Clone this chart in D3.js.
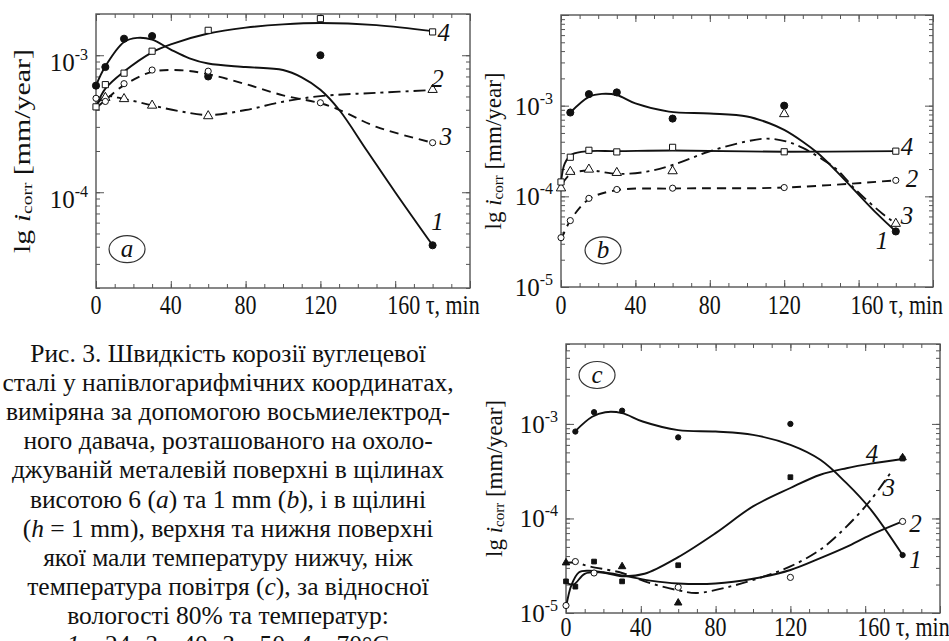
<!DOCTYPE html>
<meta charset="utf-8">
<script src="https://d3js.org/d3.v7.min.js"></script>
<style>
  body { margin: 0; background: #fff; }
</style>
<div id="my_dataviz"></div>
<script>

var SERIF = "'Liberation Serif', 'Times New Roman', serif";

// sampling times of the measured points, min
var times = [0, 5, 15, 30, 60, 120, 180];
var xLabelTicks = [0, 40, 80, 120, 160];

// ---- panel a : measured points
var aPts1 = [6.0e-4, 8.2e-4, 1.32e-3, 1.38e-3, 7.0e-4, 1.0e-3, 4.1e-5];
var aPts2 = [null, 4.9e-4, 4.8e-4, 4.3e-4, 3.6e-4, null, 5.6e-4];
var aPts3 = [4.85e-4, 4.6e-4, 6.2e-4, 7.8e-4, 7.65e-4, 4.5e-4, 2.3e-4];
var aPts4 = [4.2e-4, 6.1e-4, 7.4e-4, 1.07e-3, 1.52e-3, 1.85e-3, 1.48e-3];
// panel a : fitted curves
var aCurveT1 = [0, 5, 15, 22, 30, 40, 50, 60, 80, 100, 110, 120, 130, 145, 160, 180];
var aCurveV1 = [6.0e-4, 8.3e-4, 1.25e-3, 1.34e-3, 1.3e-3, 1.1e-3, 9.5e-4, 8.7e-4, 8.2e-4, 7.8e-4, 6.9e-4, 5.6e-4, 4.0e-4, 2.0e-4, 1.0e-4, 4.1e-5];
var aCurveT2 = [0, 5, 15, 30, 45, 60, 80, 100, 120, 150, 180];
var aCurveV2 = [4.3e-4, 5.0e-4, 4.8e-4, 4.3e-4, 3.9e-4, 3.66e-4, 3.98e-4, 4.58e-4, 5.03e-4, 5.32e-4, 5.57e-4];
var aCurveT3 = [0, 5, 15, 30, 45, 60, 80, 100, 120, 130, 150, 180];
var aCurveV3 = [4.1e-4, 4.7e-4, 6.05e-4, 7.56e-4, 7.78e-4, 7.27e-4, 6.16e-4, 5.1e-4, 4.46e-4, 4.0e-4, 3.0e-4, 2.3e-4];
var aCurveT4 = [0, 5, 15, 30, 40, 60, 80, 100, 120, 150, 180];
var aCurveV4 = [4.2e-4, 5.7e-4, 7.6e-4, 1.05e-3, 1.2e-3, 1.44e-3, 1.59e-3, 1.68e-3, 1.72e-3, 1.66e-3, 1.5e-3];

// ---- panel b
var bPts1 = [null, 8.4e-4, 1.34e-3, 1.4e-3, 7.2e-4, 1.0e-3, 4.1e-5];
var bPts2 = [3.5e-5, 5.4e-5, 9.5e-5, 1.19e-4, 1.23e-4, 1.25e-4, 1.5e-4];
var bPts3 = [1.23e-4, 1.87e-4, 1.98e-4, 1.82e-4, 1.9e-4, 8.1e-4, 5.0e-5];
var bPts4 = [1.44e-4, 2.7e-4, 3.22e-4, 3.09e-4, 3.47e-4, 3.1e-4, 3.15e-4];
var bCurveT1 = [5, 15, 22, 30, 40, 58, 80, 100, 112, 120, 130, 138, 148, 159, 170, 180];
var bCurveV1 = [8.4e-4, 1.25e-3, 1.35e-3, 1.31e-3, 1.06e-3, 8.6e-4, 8.2e-4, 7.6e-4, 6.4e-4, 5.4e-4, 4.0e-4, 3.0e-4, 1.9e-4, 1.1e-4, 6.4e-5, 4.1e-5];
var bCurveT2 = [0, 5, 15, 30, 60, 120, 180];
var bCurveV2 = [3.3e-5, 5.4e-5, 9.3e-5, 1.17e-4, 1.22e-4, 1.25e-4, 1.5e-4];
var bCurveT3 = [0, 5, 15, 30, 46, 61, 80, 100, 111, 121, 130, 140, 148, 159, 173, 180];
var bCurveV3 = [1.3e-4, 1.75e-4, 1.93e-4, 1.77e-4, 1.87e-4, 2.25e-4, 3.14e-4, 4.04e-4, 4.33e-4, 4.04e-4, 3.42e-4, 2.6e-4, 2.0e-4, 1.15e-4, 6.4e-5, 5.0e-5];
var bCurveT4 = [0, 2, 6, 15, 30, 60, 120, 180];
var bCurveV4 = [1.4e-4, 2.3e-4, 2.9e-4, 3.15e-4, 3.15e-4, 3.2e-4, 3.1e-4, 3.15e-4];

// ---- panel c
var cPts1 = [null, 8.3e-4, 1.33e-3, 1.38e-3, 7.2e-4, 1.0e-3, 4.1e-5];
var cPts2 = [1.2e-5, 3.5e-5, 2.65e-5, null, 1.87e-5, 2.38e-5, 9.3e-5];
var cPts3 = [3.4e-5, null, null, 3.1e-5, 1.28e-5, null, 4.4e-4];
var cPts4 = [2.16e-5, 1.9e-5, 3.5e-5, 2.16e-5, 3.2e-5, 2.73e-4, 4.3e-4];
var cCurveT1 = [5, 14, 21, 30, 41, 60, 80, 100, 120, 136, 150, 163, 180];
var cCurveV1 = [8.4e-4, 1.19e-3, 1.33e-3, 1.3e-3, 1.06e-3, 8.6e-4, 8.3e-4, 7.66e-4, 6.0e-4, 4.17e-4, 2.36e-4, 1.24e-4, 4.1e-5];
var cCurveT2 = [0, 3, 7, 12, 20, 30, 45, 60, 80, 100, 120, 136, 150, 163, 180];
var cCurveV2 = [1.15e-5, 2.0e-5, 2.7e-5, 2.8e-5, 2.7e-5, 2.5e-5, 2.2e-5, 2.05e-5, 2.05e-5, 2.3e-5, 2.85e-5, 3.8e-5, 5.0e-5, 6.7e-5, 9.3e-5];
var cCurveT3 = [0, 5, 13, 30, 45, 60, 70, 88, 106, 120, 136, 150, 163, 174];
var cCurveV3 = [3.4e-5, 3.4e-5, 3.1e-5, 2.65e-5, 2.07e-5, 1.74e-5, 1.63e-5, 1.91e-5, 2.44e-5, 3.11e-5, 4.68e-5, 8.2e-5, 1.57e-4, 3.13e-4];
var cCurveT4 = [0, 4, 10, 18, 30, 42, 60, 80, 100, 120, 136, 150, 163, 180];
var cCurveV4 = [2.1e-5, 2.0e-5, 2.6e-5, 2.7e-5, 2.45e-5, 2.6e-5, 3.9e-5, 7.0e-5, 1.34e-4, 2.1e-4, 2.9e-4, 3.4e-4, 3.8e-4, 4.25e-4];

// curve numbers and where they sit (t, value)
var aNumbers = [["1", 182.6, 6.1e-5], ["2", 182.6, 6.8e-4], ["3", 187, 2.54e-4], ["4", 186, 1.47e-3]];
var bNumbers = [["1", 172.6, 3.27e-5], ["2", 188.7, 1.59e-4], ["3", 186, 6.1e-5], ["4", 186, 3.57e-4]];
var cNumbers = [["1", 186.9, 3.66e-5], ["2", 186.9, 8.9e-5], ["3", 172.6, 2.1e-4], ["4", 163.7, 4.9e-4]];

var captionLines = [
  [["Рис. 3. Швидкість корозії вуглецевої"]],
  [["сталі у напівлогарифмічних координатах,"]],
  [["виміряна за допомогою восьмиелектрод-"]],
  [["ного давача, розташованого на охоло-"]],
  [["джуваній металевій поверхні в щілинах"]],
  [["висотою 6 ("], ["a", 1], [") та 1 mm ("], ["b", 1], ["), і в щілині"]],
  [["("], ["h", 1], [" = 1 mm), верхня та нижня поверхні"]],
  [["якої мали температуру нижчу, ніж"]],
  [["температура повітря ("], ["c", 1], ["), за відносної"]],
  [["вологості 80% та температур:"]],
  [["1", 1], [" – 24; "], ["2", 1], [" – 40; "], ["3", 1], [" – 50; "], ["4", 1], [" – 70°C"]]
];

function zip(ts, vs) { return ts.map(function (t, i) { return [t, vs[i]]; }); }

var DISC = {type: d3.symbolCircle, size: 40, fill: "#111"};
var SDISC = {type: d3.symbolCircle, size: 22, fill: "#111"};
var CIRC = {type: d3.symbolCircle, size: 30, fill: "#fff"};
var SQ = {type: d3.symbolSquare, size: 38, fill: "#fff"};
var SSQ = {type: d3.symbolSquare, size: 22, fill: "#111"};
var TRI = {type: d3.symbolTriangle, size: 38, fill: "#fff"};
var STRI = {type: d3.symbolTriangle, size: 24, fill: "#111"};
var SOLID = null, DASH = "9,6", DASHDOT = "12,5,3,5";

var panels = [
  {badge: "a", left: 96, right: 470, top: 14, bottom: 288, yDomain: [2e-5, 2e-3], yLabels: [1e-3, 1e-4],
   yLabelDy: 16, titleX: 22, titleScale: 1.3, badgeAt: [16.6, 3.84e-5], numbers: aNumbers, xLabelY: 314,
   series: [
     {pts: aPts1, curve: zip(aCurveT1, aCurveV1), mark: DISC, dash: SOLID},
     {pts: aPts2, curve: zip(aCurveT2, aCurveV2), mark: TRI, dash: DASHDOT},
     {pts: aPts3, curve: zip(aCurveT3, aCurveV3), mark: CIRC, dash: DASH},
     {pts: aPts4, curve: zip(aCurveT4, aCurveV4), mark: SQ, dash: SOLID}]},
  {badge: "b", left: 561, right: 933, top: 15, bottom: 287, yDomain: [1e-5, 1e-2], yLabels: [1e-3, 1e-4, 1e-5],
   yLabelDy: 9, titleX: 493, titleScale: 1, badgeAt: [22.6, 2.54e-5], numbers: bNumbers, xLabelY: 314,
   series: [
     {pts: bPts1, curve: zip(bCurveT1, bCurveV1), mark: DISC, dash: SOLID},
     {pts: bPts2, curve: zip(bCurveT2, bCurveV2), mark: CIRC, dash: DASH},
     {pts: bPts3, curve: zip(bCurveT3, bCurveV3), mark: TRI, dash: DASHDOT},
     {pts: bPts4, curve: zip(bCurveT4, bCurveV4), mark: SQ, dash: SOLID}]},
  {badge: "c", left: 566, right: 940, top: 344, bottom: 613, yDomain: [1e-5, 7e-3], yLabels: [1e-3, 1e-4, 1e-5],
   yLabelDy: 9, titleX: 494, titleScale: 1, badgeAt: [16.6, 3.29e-3], numbers: cNumbers, xLabelY: 636,
   series: [
     {pts: cPts1, curve: zip(cCurveT1, cCurveV1), mark: SDISC, dash: SOLID},
     {pts: cPts2, curve: zip(cCurveT2, cCurveV2), mark: CIRC, dash: SOLID},
     {pts: cPts3, curve: zip(cCurveT3, cCurveV3), mark: STRI, dash: DASHDOT},
     {pts: cPts4, curve: zip(cCurveT4, cCurveV4), mark: SSQ, dash: SOLID}]}
];

var svg = d3.select("#my_dataviz")
  .append("svg")
    .attr("width", 949)
    .attr("height", 641)
    .style("font-family", SERIF)
    .style("background", "#fff");

function label(g) {
  return g.append("text").style("font-family", SERIF).attr("fill", "#111");
}

function ticks(g, axisFn, scale, values, size, tr) {
  g.append("g")
    .attr("transform", tr)
    .call(axisFn(scale).tickValues(values).tickSize(-size).tickFormat(""))
    .call(function (s) {
      s.select(".domain").remove();
      s.selectAll("text").remove();
      s.selectAll("line").attr("stroke", "#555").attr("stroke-width", 1);
    });
}

function drawPanel(p) {
  var g = svg.append("g");
  var x = d3.scaleLinear().domain([0, 200]).range([p.left, p.right]);
  var y = d3.scaleLog().domain(p.yDomain).range([p.bottom, p.top]);

  // ticks on all four sides, pointing inwards
  var xMinor = d3.range(0, 201, 10);
  var xMajor = d3.range(0, 201, 40);
  var yAll = y.ticks();
  var yMajor = yAll.filter(function (v) { return Math.abs(Math.log10(v) - Math.round(Math.log10(v))) < 1e-6; });
  ticks(g, d3.axisBottom, x, xMinor, 4, "translate(0," + p.bottom + ")");
  ticks(g, d3.axisBottom, x, xMajor, 7, "translate(0," + p.bottom + ")");
  ticks(g, d3.axisTop, x, xMinor, 4, "translate(0," + p.top + ")");
  ticks(g, d3.axisTop, x, xMajor, 7, "translate(0," + p.top + ")");
  ticks(g, d3.axisLeft, y, yAll, 4, "translate(" + p.left + ",0)");
  ticks(g, d3.axisLeft, y, yMajor, 8, "translate(" + p.left + ",0)");
  ticks(g, d3.axisRight, y, yAll, 4, "translate(" + p.right + ",0)");
  ticks(g, d3.axisRight, y, yMajor, 8, "translate(" + p.right + ",0)");

  g.append("rect")
    .attr("x", p.left).attr("y", p.top)
    .attr("width", p.right - p.left).attr("height", p.bottom - p.top)
    .attr("fill", "none").attr("stroke", "#555").attr("stroke-width", 1.4);

  // x tick labels
  xLabelTicks.forEach(function (t) {
    var last = t === 160;
    label(g)
      .attr("transform", "translate(" + (last ? x(t) - 8 : x(t)) + "," + p.xLabelY + ") scale(1,1.2)")
      .attr("text-anchor", last ? "start" : "middle")
      .style("font-size", "22px")
      .text(last ? "160 τ, min" : t);
  });

  // y tick labels 10^n
  p.yLabels.forEach(function (v) {
    var t = label(g)
      .attr("x", p.left - 8)
      .attr("y", y(v) + p.yLabelDy)
      .attr("text-anchor", "end")
      .style("font-size", "25px");
    t.append("tspan").text("10");
    t.append("tspan").attr("dy", -11).style("font-size", "16px").text(Math.round(Math.log10(v)));
  });

  // y axis title
  var cy = (p.top + p.bottom) / 2;
  var title = label(g)
    .attr("transform", "translate(" + p.titleX + "," + cy + ") rotate(-90) scale(" + p.titleScale + ",1)")
    .attr("text-anchor", "middle")
    .attr("dominant-baseline", "central")
    .style("font-size", "23px");
  title.append("tspan").text("lg ");
  title.append("tspan").style("font-style", "italic").text("i");
  title.append("tspan").attr("dy", 5).style("font-size", "15px").text("corr");
  title.append("tspan").attr("dy", -5).text(" [mm/year]");

  // fitted curves
  var line = d3.line()
    .x(function (d) { return x(d[0]); })
    .y(function (d) { return y(d[1]); })
    .curve(d3.curveCatmullRom.alpha(0.5));
  p.series.forEach(function (s) {
    g.append("path")
      .datum(s.curve)
      .attr("d", line)
      .attr("fill", "none")
      .attr("stroke", "#111")
      .attr("stroke-width", 1.9)
      .attr("stroke-dasharray", s.dash);
  });

  // measured points
  p.series.forEach(function (s) {
    var pts = times.map(function (t, i) { return [t, s.pts[i]]; })
      .filter(function (d) { return d[1] != null; });
    g.append("g").selectAll("path")
      .data(pts)
      .enter()
      .append("path")
        .attr("transform", function (d) { return "translate(" + x(d[0]) + "," + y(d[1]) + ")"; })
        .attr("d", d3.symbol().type(s.mark.type).size(s.mark.size))
        .attr("fill", s.mark.fill)
        .attr("stroke", "#111")
        .attr("stroke-width", 1);
  });

  // curve numbers
  p.numbers.forEach(function (n) {
    label(g)
      .attr("x", x(n[1])).attr("y", y(n[2]))
      .attr("text-anchor", "middle")
      .attr("dominant-baseline", "central")
      .style("font-size", "25px")
      .style("font-style", "italic")
      .text(n[0]);
  });

  // panel letter in an ellipse
  var bx = x(p.badgeAt[0]), by = y(p.badgeAt[1]);
  g.append("ellipse")
    .attr("cx", bx).attr("cy", by).attr("rx", 18).attr("ry", 13.5)
    .attr("fill", "none").attr("stroke", "#333").attr("stroke-width", 1.2);
  label(g)
    .attr("x", bx).attr("y", by - 1)
    .attr("text-anchor", "middle")
    .attr("dominant-baseline", "central")
    .style("font-size", "25px")
    .style("font-style", "italic")
    .text(p.badge);
}

panels.forEach(drawPanel);

// caption
var cap = svg.append("g");
captionLines.forEach(function (segs, i) {
  var t = label(cap)
    .attr("x", 228)
    .attr("y", 362 + i * 29.1)
    .attr("text-anchor", "middle")
    .style("font-size", "25.5px");
  segs.forEach(function (s) {
    t.append("tspan").style("font-style", s[1] ? "italic" : "normal").text(s[0]);
  });
});

</script>
